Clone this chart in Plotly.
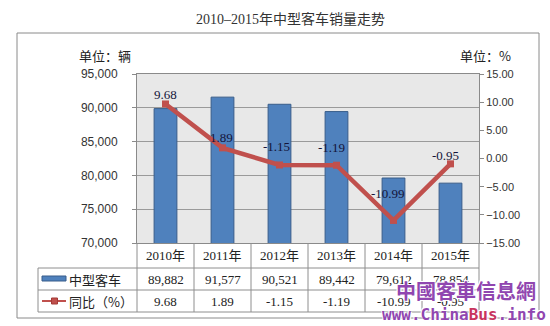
import plotly.graph_objects as go

# ---- data ----
years = ["2010年", "2011年", "2012年", "2013年", "2014年", "2015年"]
sales = [89882, 91577, 90521, 89442, 79612, 78854]
yoy = [9.68, 1.89, -1.15, -1.19, -10.99, -0.95]
bar_name = "中型客车"
line_name = "同比（%）"
left_ticks = [70000, 75000, 80000, 85000, 90000, 95000]
right_ticks = [-15, -10, -5, 0, 5, 10, 15]
title = "2010–2015年中型客车销量走势"

# label placement offsets (pixels) for the growth-rate labels
label_dx = [0, -1, -3, -5, -6, -5]
label_dy = [9, 10, 18, 18, 27, 8]

# ---- geometry (pixels) ----
W, H = 550, 326
PL, PR, PT, PB = 137, 479, 74, 243


def px(x):
    return (x - PL) / (PR - PL)


def py(y):
    return (PB - y) / (PB - PT)


SERIF = "Liberation Serif, Noto Sans CJK SC, serif"
SANS = "Liberation Sans, Noto Sans CJK SC, sans-serif"
CJK = "Noto Sans CJK SC, sans-serif"
BLUE = "#4F81BD"
BLUE_EDGE = "#385D8A"
RED = "#C0504D"
GRID = "#9A9A9A"
TABLE = "#8E8E8E"

xs = list(range(len(years)))

fig = go.Figure()
fig.add_trace(go.Bar(
    x=xs, y=sales, width=0.4, name=bar_name,
    marker=dict(color=BLUE, line=dict(color=BLUE_EDGE, width=1)),
    yaxis="y",
))
fig.add_trace(go.Scatter(
    x=xs, y=yoy, name=line_name, mode="lines+markers",
    line=dict(color=RED, width=4.5),
    marker=dict(symbol="square", size=7, color=RED),
    yaxis="y2", cliponaxis=False,
))

shapes = []
annotations = []

# growth-rate value labels on the line
for i, v in enumerate(yoy):
    annotations.append(dict(x=i, y=v, xref="x", yref="y2", text=f"{v:.2f}",
                            showarrow=False, xanchor="center", yanchor="middle",
                            xshift=label_dx[i], yshift=label_dy[i],
                            font=dict(family=SERIF, size=13, color="#14143a")))


def line(x0, y0, x1, y1, color=TABLE, width=1):
    shapes.append(dict(type="line", xref="paper", yref="paper",
                       x0=px(x0), y0=py(y0), x1=px(x1), y1=py(y1),
                       line=dict(color=color, width=width), layer="above"))


def text(x, y, s, size=13, family=SERIF, color="#222", xref="paper", xanchor="center"):
    annotations.append(dict(x=x if xref == "x" else px(x), y=py(y), xref=xref, yref="paper",
                            text=s, showarrow=False, xanchor=xanchor, yanchor="middle",
                            font=dict(family=family, size=size, color=color)))
    return annotations[-1]


# outer frame
shapes.append(dict(type="rect", xref="paper", yref="paper",
                   x0=px(17), y0=py(33), x1=px(539), y1=py(318),
                   line=dict(color="#8A8A8A", width=1), layer="below"))

# data table grid
ROW0, ROW1, ROW2, ROW3 = 243, 268, 290, 312
TL = 38
line(TL, ROW1, PR, ROW1)
line(TL, ROW2, PR, ROW2)
line(TL, ROW3, PR, ROW3)
line(TL, ROW1, TL, ROW3)
for i in range(len(years) + 1):
    xb = PL + i * (PR - PL) / len(years)
    line(xb, ROW0, xb, ROW3)

# table contents
for i, yr in enumerate(years):
    text(i, (ROW0 + ROW1) / 2, yr, xref="x")
    text(i, (ROW1 + ROW2) / 2, f"{sales[i]:,}", xref="x")
    text(i, (ROW2 + ROW3) / 2, f"{yoy[i]:.2f}", xref="x")

# legend keys inside the table
shapes.append(dict(type="rect", xref="paper", yref="paper",
                   x0=px(42), y0=py(276), x1=px(66), y1=py(281),
                   fillcolor=BLUE, line=dict(color=BLUE_EDGE, width=1), layer="above"))
line(42, 301, 66, 301, color=RED, width=2)
shapes.append(dict(type="rect", xref="paper", yref="paper",
                   x0=px(51.5), y0=py(298), x1=px(57.5), y1=py(304),
                   fillcolor=RED, line=dict(color="#A33A37", width=1), layer="above"))
text(67, (ROW1 + ROW2) / 2, bar_name, size=13, family=CJK, xanchor="left")
text(67, (ROW2 + ROW3) / 2, line_name, size=13, family=CJK, xanchor="left")

# unit labels and title
text(105, 56, "单位：辆", size=13, family=CJK)
text(486, 56, "单位：%", size=13, family=CJK)
text(290, 19, title, size=14, family=SERIF, color="#333")

# site watermark
wm = text(466, 290, "中國客車信息網", size=20, family="Noto Sans CJK TC, sans-serif",
          color="#9046B0")
wm["font"]["weight"] = "bold"
wm["font"]["shadow"] = "1px 1px 0 #fff, -1px -1px 0 #fff, 1px -1px 0 #fff, -1px 1px 0 #fff"
url = text(464, 314, "www.China<span style='color:#C8345E'>Bus</span>.info", size=16,
           family="DejaVu Sans Mono, monospace", color="#9046B0")
url["font"]["weight"] = "bold"
url["font"]["shadow"] = "1px 1px 0 #fff, -1px -1px 0 #fff"

fig.update_layout(
    width=W, height=H,
    margin=dict(l=PL, r=W - PR, t=PT, b=H - PB, pad=0),
    paper_bgcolor="white",
    plot_bgcolor="#E8E8E8",
    showlegend=False,
    xaxis=dict(range=[-0.5, len(years) - 0.5], showticklabels=False, showgrid=False,
               zeroline=False, showline=True, linecolor="#8A8A8A", mirror=True,
               ticks=""),
    yaxis=dict(range=[left_ticks[0], left_ticks[-1]], tickvals=left_ticks,
               tickformat=",", showgrid=True, gridcolor=GRID, gridwidth=1,
               zeroline=False, showline=True, linecolor="#8A8A8A",
               ticks="outside", ticklen=4, tickcolor="#8A8A8A",
               tickfont=dict(family=SANS, size=12, color="#333"), ticklabelstandoff=12),
    yaxis2=dict(range=[right_ticks[0], right_ticks[-1]], tickvals=right_ticks,
                tickformat=".2f", overlaying="y", side="right", showgrid=False,
                zeroline=False, showline=True, linecolor="#8A8A8A",
                ticks="outside", ticklen=4, tickcolor="#8A8A8A",
                tickfont=dict(family=SANS, size=11, color="#333")),
    shapes=shapes,
    annotations=annotations,
)

fig.write_html("out.html")
